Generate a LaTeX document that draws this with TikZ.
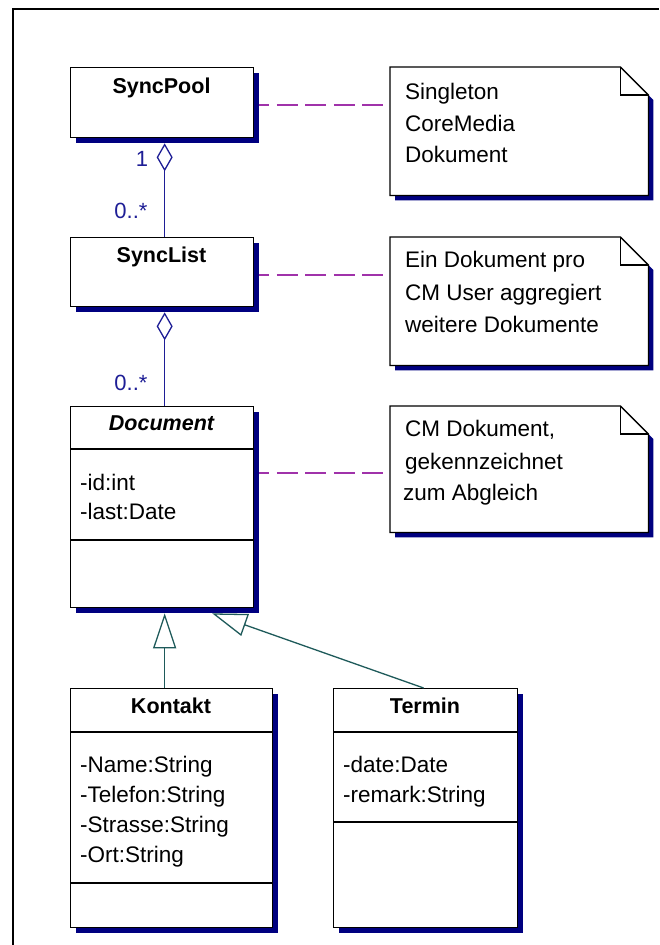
\documentclass[tikz,border=0pt]{standalone}
\usepackage{fontspec}
\setmainfont{Liberation Sans}
\usetikzlibrary{arrows.meta,calc,shadows}
\definecolor{shadowc}{RGB}{0,0,128}
\definecolor{assocc}{RGB}{30,30,150}
\definecolor{genc}{RGB}{30,90,90}
\definecolor{notec}{RGB}{160,50,170}
\newcommand{\umlnote}[1]{%
  \draw[noteshape] (#1.north west) -- ([xshift=-28pt]#1.north east) -- ([yshift=-28pt]#1.north east) -- (#1.south east) -- (#1.south west) -- cycle;
  \draw[line width=1.3pt] ([xshift=-28pt]#1.north east) |- ([yshift=-28pt]#1.north east);}
\begin{document}
\begin{tikzpicture}[x=1pt,y=-1pt,
  myshadow/.style={drop shadow={shadow xshift=5pt,shadow yshift=-5pt,fill=shadowc,opacity=1}},
  cls/.style={draw=black, fill=white, line width=1.3pt, inner sep=0pt, anchor=north west, myshadow},
  divider/.style={line width=1.3pt},
  title/.style={font=\fontsize{21.5}{25}\selectfont\bfseries, anchor=base, inner sep=0pt},
  attr/.style={font=\fontsize{22.5}{27}\selectfont, anchor=base west, inner sep=0pt},
  notebg/.style={inner sep=0pt, anchor=north west},
  noteshape/.style={draw=black, fill=white, line width=1.3pt, myshadow},
  mult/.style={text=assocc, font=\fontsize{22}{26}\selectfont, inner sep=0pt},
  assoc/.style={draw=assocc, line width=1.3pt},
  gen/.style={draw=genc, line width=1.3pt},
  notelink/.style={draw=notec, line width=2pt, dash pattern=on 21pt off 7.5pt, dash phase=11pt},
]
\useasboundingbox (0,0) rectangle (659,945);
\fill[white] (0,0) rectangle (659,945);
% frame
\draw[line width=2.5pt] (13,945) -- (13,9) -- (659,9);

% classes
\node[cls, minimum width=183pt, minimum height=70pt] (sp) at (70,67) {};
\node[title] (spt) at (161.5,93.5) {SyncPool};

\node[cls, minimum width=183pt, minimum height=69pt] (sl) at (70,237) {};
\node[title] (slt) at (161.5,262.5) {SyncList};

\node[cls, minimum width=183pt, minimum height=201pt] (doc) at (70,406) {};
\draw[divider] (doc.west |- 0,449) -- (doc.east |- 0,449);
\draw[divider] (doc.west |- 0,540) -- (doc.east |- 0,540);
\node[title, font=\fontsize{21.5}{25}\selectfont\bfseries\itshape] (doct) at (161.5,430.5) {Document};
\node[attr] (doca) at (80,490.5) {-id:int};
\node[attr] (docb) at (80,519.5) {-last:Date};

\node[cls, minimum width=202pt, minimum height=239pt] (kon) at (70,688) {};
\draw[divider] (kon.west |- 0,732) -- (kon.east |- 0,732);
\draw[divider] (kon.west |- 0,883) -- (kon.east |- 0,883);
\node[title] (kont) at (171,713.5) {Kontakt};
\node[attr] (kona) at (80,772.5) {-Name:String};
\node[attr] (konb) at (80,802.5) {-Telefon:String};
\node[attr] (konc) at (80,832.5) {-Strasse:String};
\node[attr] (kond) at (80,862.5) {-Ort:String};

\node[cls, minimum width=184pt, minimum height=239pt] (ter) at (333,688) {};
\draw[divider] (ter.west |- 0,732) -- (ter.east |- 0,732);
\draw[divider] (ter.west |- 0,822) -- (ter.east |- 0,822);
\node[title] (tert) at (425,713.5) {Termin};
\node[attr] (tera) at (343,772.5) {-date:Date};
\node[attr] (terb) at (343,802.5) {-remark:String};

% notes
\node[notebg, minimum width=258pt, minimum height=128pt] (n1) at (390,67) {};
\umlnote{n1}
\node[attr] (n1a) at (405,99.5) {Singleton};
\node[attr] (n1b) at (405,131) {CoreMedia};
\node[attr] (n1c) at (405,162.5) {Dokument};

\node[notebg, minimum width=258pt, minimum height=128pt] (n2) at (390,237) {};
\umlnote{n2}
\node[attr] (n2a) at (405,267.5) {Ein Dokument pro};
\node[attr] (n2b) at (405,300) {CM User aggregiert};
\node[attr] (n2c) at (405,332.5) {weitere Dokumente};

\node[notebg, minimum width=258pt, minimum height=126pt] (n3) at (390,406) {};
\umlnote{n3}
\node[attr] (n3a) at (405,436.5) {CM Dokument,};
\node[attr] (n3b) at (405,469) {gekennzeichnet};
\node[attr] (n3c) at (403,500.5) {zum Abgleich};

% note links
\coordinate (c1) at ([xshift=5pt,yshift=-2.7pt]sp.east);
\draw[notelink] (c1) -- (c1 -| n1.west);
\coordinate (c2) at ([xshift=5pt,yshift=-2.5pt]sl.east);
\draw[notelink] (c2) -- (c2 -| n2.west);
\coordinate (c3) at ([xshift=5pt,yshift=34.5pt]doc.east);
\draw[notelink] (c3) -- (c3 -| n3.west);

% aggregations
\draw[assoc, -{Diamond[fill=white,length=28pt,width=16pt]}] ([xshift=2.5pt]sl.north) -- ([xshift=2.5pt,yshift=-5pt]sp.south);
\draw[assoc, -{Diamond[fill=white,length=28pt,width=16pt]}] ([xshift=2.5pt]doc.north) -- ([xshift=2.5pt,yshift=-5pt]sl.south);
\node[mult] (m1) at (142,159) {1};
\node[mult] (m2) at (131,211) {0..*};
\node[mult] (m3) at (131,383) {0..*};

% generalizations
\coordinate (g1) at ([xshift=2.5pt,yshift=-5pt]doc.south);
\coordinate (g2) at ([xshift=50pt,yshift=-5pt]doc.south);
\draw[gen, -{Triangle[fill=white,length=35pt,width=23pt]}] (kon.north -| g1) -- (g1);
\draw[gen, -{Triangle[fill=white,length=35pt,width=23pt]}] ([xshift=-2pt]ter.north) -- (g2);
\end{tikzpicture}
\end{document}
